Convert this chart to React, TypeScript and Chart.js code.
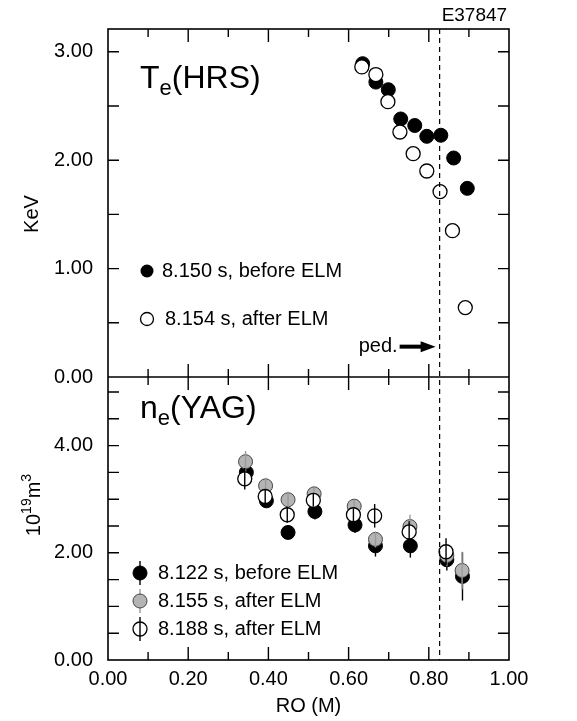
import React, { useEffect, useRef } from "react";
import { Chart, registerables } from "chart.js";

Chart.register(...registerables);

const FONT = "'Liberation Sans', Arial, Helvetica, sans-serif";

// ---- Top panel: Te (HRS), KeV ----
const teBeforeR = [0.635, 0.668, 0.699, 0.730, 0.765, 0.795, 0.830, 0.862, 0.896];
const teBeforeV = [2.89, 2.72, 2.65, 2.38, 2.32, 2.22, 2.23, 2.02, 1.74];
const teAfterR = [0.633, 0.668, 0.698, 0.728, 0.761, 0.795, 0.828, 0.859, 0.891];
const teAfterV = [2.86, 2.79, 2.54, 2.26, 2.06, 1.90, 1.71, 1.35, 0.64];

// ---- Bottom panel: ne (YAG), 10^19 m^3 ----
const ne122R = [0.345, 0.395, 0.449, 0.516, 0.616, 0.667, 0.754, 0.845, 0.884];
const ne122V = [3.50, 2.97, 2.38, 2.77, 2.52, 2.13, 2.13, 1.87, 1.56];
const ne122E = [0.16, 0.12, 0.12, 0.15, 0.15, 0.2, 0.22, 0.2, 0.45];

const ne155R = [0.343, 0.393, 0.449, 0.514, 0.614, 0.667, 0.753, 0.845, 0.883];
const ne155V = [3.70, 3.25, 2.99, 3.10, 2.87, 2.25, 2.49, 1.95, 1.67];
const ne155E = [0.2, 0.15, 0.15, 0.12, 0.12, 0.15, 0.22, 0.2, 0.35];

const ne188R = [0.341, 0.392, 0.447, 0.512, 0.612, 0.665, 0.751, 0.843];
const ne188V = [3.38, 3.05, 2.71, 2.98, 2.71, 2.69, 2.39, 2.02];
const ne188E = [0.2, 0.12, 0.15, 0.12, 0.12, 0.22, 0.2, 0.25];

// ---- Axes ----
const xTicks = [0, 0.2, 0.4, 0.6, 0.8, 1.0];
const teTicks = [0, 1, 2, 3];
const neTicks = [0, 2, 4];
const xMin = 0, xMax = 1;
const teMin = 0, teMax = 3.21;
const neMin = 0, neMax = 5.28;
const pedR = 0.827;
const pedArrowV = 0.28;

const shotLabel = "E37847";
const xTitle = "RO (M)";
const teLegend = ["8.150 s, before ELM", "8.154 s, after ELM"];
const neLegend = ["8.122 s, before ELM", "8.155 s, after ELM", "8.188 s, after ELM"];

const GRAY = "#b4b4b4";
const GRAY_BAR = "#9a9a9a";

const pts = (xs: number[], ys: number[]) => xs.map((x, i) => ({ x, y: ys[i] }));

function drawSubText(ctx: CanvasRenderingContext2D, x: number, y: number, parts: { t: string; size: number; dy: number }[]) {
  let cx = x;
  for (const p of parts) {
    ctx.font = `${p.size}px ${FONT}`;
    ctx.fillText(p.t, cx, y + p.dy);
    cx += ctx.measureText(p.t).width;
  }
}

const decor = {
  id: "decor",
  afterDatasetDraw(chart: any, args: any) {
    const ds = chart.data.datasets[args.index];
    if (!ds.errors) return;
    const xs = chart.scales.x;
    const ys = chart.scales[ds.yAxisID];
    const ctx = chart.ctx;
    ctx.save();
    ctx.strokeStyle = ds.errColor;
    ctx.lineWidth = 1.4;
    ds.data.forEach((p: any, i: number) => {
      const e = ds.errors[i];
      const px = xs.getPixelForValue(p.x);
      ctx.beginPath();
      ctx.moveTo(px, ys.getPixelForValue(p.y - e));
      ctx.lineTo(px, ys.getPixelForValue(p.y + e));
      ctx.stroke();
    });
    ctx.restore();
  },
  afterDraw(chart: any) {
    const ctx: CanvasRenderingContext2D = chart.ctx;
    const x = chart.scales.x;
    const yT = chart.scales.yTop;
    const yB = chart.scales.yBot;
    const L = x.left, R = x.right;
    const top = yT.top, mid = yT.bottom, bot = yB.bottom;
    ctx.save();
    ctx.strokeStyle = "#000";
    ctx.fillStyle = "#000";
    ctx.lineWidth = 1.6;
    // frame
    ctx.strokeRect(L, top, R - L, bot - top);
    ctx.beginPath();
    ctx.moveTo(L, mid);
    ctx.lineTo(R, mid);
    ctx.stroke();
    // x ticks (inward)
    ctx.lineWidth = 1.4;
    for (let k = 1; k < 10; k++) {
      const px = x.getPixelForValue(k / 10);
      const len = k % 2 === 0 ? 13 : 8;
      ctx.beginPath();
      ctx.moveTo(px, top); ctx.lineTo(px, top + len);
      ctx.moveTo(px, mid); ctx.lineTo(px, mid - len);
      ctx.moveTo(px, mid); ctx.lineTo(px, mid + len);
      ctx.moveTo(px, bot); ctx.lineTo(px, bot - len);
      ctx.stroke();
    }
    // y ticks
    const yt = (scale: any, maxV: number) => {
      for (let v = 0.5; v <= maxV + 1e-9; v += 0.5) {
        const py = scale.getPixelForValue(v);
        ctx.beginPath();
        ctx.moveTo(L, py); ctx.lineTo(L + 11, py);
        ctx.moveTo(R, py); ctx.lineTo(R - 11, py);
        ctx.stroke();
      }
    };
    yt(yT, 3.0);
    yt(yB, 5.0);

    // dashed pedestal line
    const dx = x.getPixelForValue(pedR);
    ctx.setLineDash([5, 4]);
    ctx.lineWidth = 1.2;
    ctx.beginPath();
    ctx.moveTo(dx, top);
    ctx.lineTo(dx, bot);
    ctx.stroke();
    ctx.setLineDash([]);

    // shot label
    ctx.font = `19px ${FONT}`;
    ctx.textAlign = "left";
    ctx.textBaseline = "alphabetic";
    ctx.fillText(shotLabel, dx + 2, 21);

    // ped arrow
    const ay = yT.getPixelForValue(pedArrowV);
    const tip = dx - 4;
    const start = tip - 36;
    ctx.lineWidth = 4;
    ctx.beginPath();
    ctx.moveTo(start, ay);
    ctx.lineTo(tip - 10, ay);
    ctx.stroke();
    ctx.beginPath();
    ctx.moveTo(tip, ay);
    ctx.lineTo(tip - 15, ay - 5.5);
    ctx.lineTo(tip - 15, ay + 5.5);
    ctx.closePath();
    ctx.fill();
    ctx.font = `20px ${FONT}`;
    ctx.textAlign = "right";
    ctx.textBaseline = "middle";
    ctx.fillText("ped.", start - 2, ay);

    // panel labels
    ctx.textAlign = "left";
    ctx.textBaseline = "alphabetic";
    drawSubText(ctx, L + 32, top + 59, [
      { t: "T", size: 32, dy: 0 },
      { t: "e", size: 22, dy: 7 },
      { t: "(HRS)", size: 32, dy: 0 },
    ]);
    drawSubText(ctx, L + 32, mid + 41, [
      { t: "n", size: 32, dy: 0 },
      { t: "e", size: 22, dy: 7 },
      { t: "(YAG)", size: 32, dy: 0 },
    ]);

    // top legend
    ctx.textBaseline = "middle";
    ctx.font = `20px ${FONT}`;
    const lx = L + 39;
    const l1 = 271, l2 = 319;
    ctx.beginPath(); ctx.arc(lx, l1, 6.5, 0, Math.PI * 2); ctx.fillStyle = "#000"; ctx.fill();
    ctx.fillText(teLegend[0], lx + 15, l1);
    ctx.beginPath(); ctx.arc(lx, l2, 6.5, 0, Math.PI * 2); ctx.fillStyle = "#fff"; ctx.fill();
    ctx.lineWidth = 1.3; ctx.strokeStyle = "#000"; ctx.stroke();
    ctx.fillStyle = "#000";
    ctx.fillText(teLegend[1], lx + 18, l2);

    // bottom legend
    const bx = L + 32;
    const rows = [573, 601, 629];
    const fills = ["#000", GRAY, "#fff"];
    const bars = ["#000", GRAY_BAR, "#000"];
    rows.forEach((ry, i) => {
      ctx.lineWidth = 1.4;
      ctx.strokeStyle = bars[i];
      if (i !== 2) {
        ctx.beginPath(); ctx.moveTo(bx, ry - 12); ctx.lineTo(bx, ry + 12); ctx.stroke();
      }
      ctx.beginPath(); ctx.arc(bx, ry, 7, 0, Math.PI * 2);
      ctx.fillStyle = fills[i]; ctx.fill();
      ctx.lineWidth = i === 2 ? 1.3 : 1;
      ctx.strokeStyle = i === 1 ? "#444" : "#000";
      ctx.stroke();
      if (i === 2) {
        ctx.lineWidth = 1.4; ctx.strokeStyle = "#000";
        ctx.beginPath(); ctx.moveTo(bx, ry - 12); ctx.lineTo(bx, ry + 12); ctx.stroke();
      }
      ctx.fillStyle = "#000";
      ctx.fillText(neLegend[i], bx + 18, ry);
    });

    // axis titles
    ctx.font = `20px ${FONT}`;
    ctx.textAlign = "center";
    ctx.textBaseline = "middle";
    ctx.fillText(xTitle, (L + R) / 2, 706);

    ctx.save();
    ctx.translate(32, 214);
    ctx.rotate(-Math.PI / 2);
    ctx.fillText("KeV", 0, 0);
    ctx.restore();

    ctx.save();
    ctx.translate(40, 505);
    ctx.rotate(-Math.PI / 2);
    ctx.textAlign = "left";
    ctx.textBaseline = "alphabetic";
    const parts = [
      { t: "10", size: 20, dy: 0 },
      { t: "19", size: 14, dy: -9 },
      { t: "m", size: 20, dy: 0 },
      { t: "3", size: 14, dy: -9 },
    ];
    let w = 0;
    for (const p of parts) { ctx.font = `${p.size}px ${FONT}`; w += ctx.measureText(p.t).width; }
    drawSubText(ctx, -w / 2, 0, parts);
    ctx.restore();

    ctx.restore();
  },
};

export default function App() {
  const ref = useRef<HTMLCanvasElement>(null);
  useEffect(() => {
    document.body.style.margin = "0";
    const canvas = ref.current!;
    const chart = new Chart(canvas, {
      type: "scatter",
      data: {
        datasets: [
          {
            label: teLegend[0],
            data: pts(teBeforeR, teBeforeV),
            yAxisID: "yTop",
            backgroundColor: "#000",
            borderColor: "#000",
            borderWidth: 1,
            pointRadius: 7,
            order: 2,
          },
          {
            label: teLegend[1],
            data: pts(teAfterR, teAfterV),
            yAxisID: "yTop",
            backgroundColor: "#fff",
            borderColor: "#000",
            borderWidth: 1.3,
            pointRadius: 7,
            order: 1,
          },
          {
            label: neLegend[0],
            data: pts(ne122R, ne122V),
            errors: ne122E,
            errColor: "#000",
            yAxisID: "yBot",
            backgroundColor: "#000",
            borderColor: "#000",
            borderWidth: 1,
            pointRadius: 7,
            order: 5,
          },
          {
            label: neLegend[1],
            data: pts(ne155R, ne155V),
            errors: ne155E,
            errColor: GRAY_BAR,
            yAxisID: "yBot",
            backgroundColor: GRAY,
            borderColor: "#444",
            borderWidth: 1,
            pointRadius: 7,
            order: 4,
          },
          {
            label: neLegend[2],
            data: pts(ne188R, ne188V),
            errors: ne188E,
            errColor: "#000",
            yAxisID: "yBot",
            backgroundColor: "#fff",
            borderColor: "#000",
            borderWidth: 1.3,
            pointRadius: 7,
            order: 3,
          },
        ] as any,
      },
      options: {
        responsive: false,
        animation: false,
        events: [],
        layout: { padding: { left: 0, top: 29, right: 68, bottom: 0 } },
        plugins: { legend: { display: false }, tooltip: { enabled: false } },
        scales: {
          x: {
            type: "linear",
            position: "bottom",
            min: xMin,
            max: xMax,
            grid: { display: false, drawTicks: false },
            border: { display: false },
            afterBuildTicks: (s: any) => { s.ticks = xTicks.map((v) => ({ value: v })); },
            afterFit: (s: any) => { s.height = 61; },
            ticks: {
              padding: 7,
              color: "#000",
              font: { family: FONT, size: 20 },
              callback: (v: any) => Number(v).toFixed(2),
              maxRotation: 0,
            },
          },
          yBot: {
            type: "linear",
            position: "left",
            stack: "panels",
            stackWeight: 283,
            weight: 0,
            min: neMin,
            max: neMax,
            grid: { display: false, drawTicks: false },
            border: { display: false },
            afterBuildTicks: (s: any) => { s.ticks = neTicks.map((v) => ({ value: v })); },
            afterFit: (s: any) => { s.width = 108; },
            ticks: {
              padding: 15,
              color: "#000",
              font: { family: FONT, size: 20 },
              callback: (v: any) => Number(v).toFixed(2),
            },
          },
          yTop: {
            type: "linear",
            position: "left",
            stack: "panels",
            stackWeight: 348,
            weight: 1,
            min: teMin,
            max: teMax,
            grid: { display: false, drawTicks: false },
            border: { display: false },
            afterBuildTicks: (s: any) => { s.ticks = teTicks.map((v) => ({ value: v })); },
            afterFit: (s: any) => { s.width = 108; },
            ticks: {
              padding: 15,
              color: "#000",
              font: { family: FONT, size: 20 },
              callback: (v: any) => Number(v).toFixed(2),
            },
          },
        } as any,
      },
      plugins: [decor],
    });
    return () => chart.destroy();
  }, []);
  return (
    <div style={{ width: 577, height: 721, background: "#fff" }}>
      <canvas ref={ref} width={577} height={721} style={{ display: "block" }} />
    </div>
  );
}
